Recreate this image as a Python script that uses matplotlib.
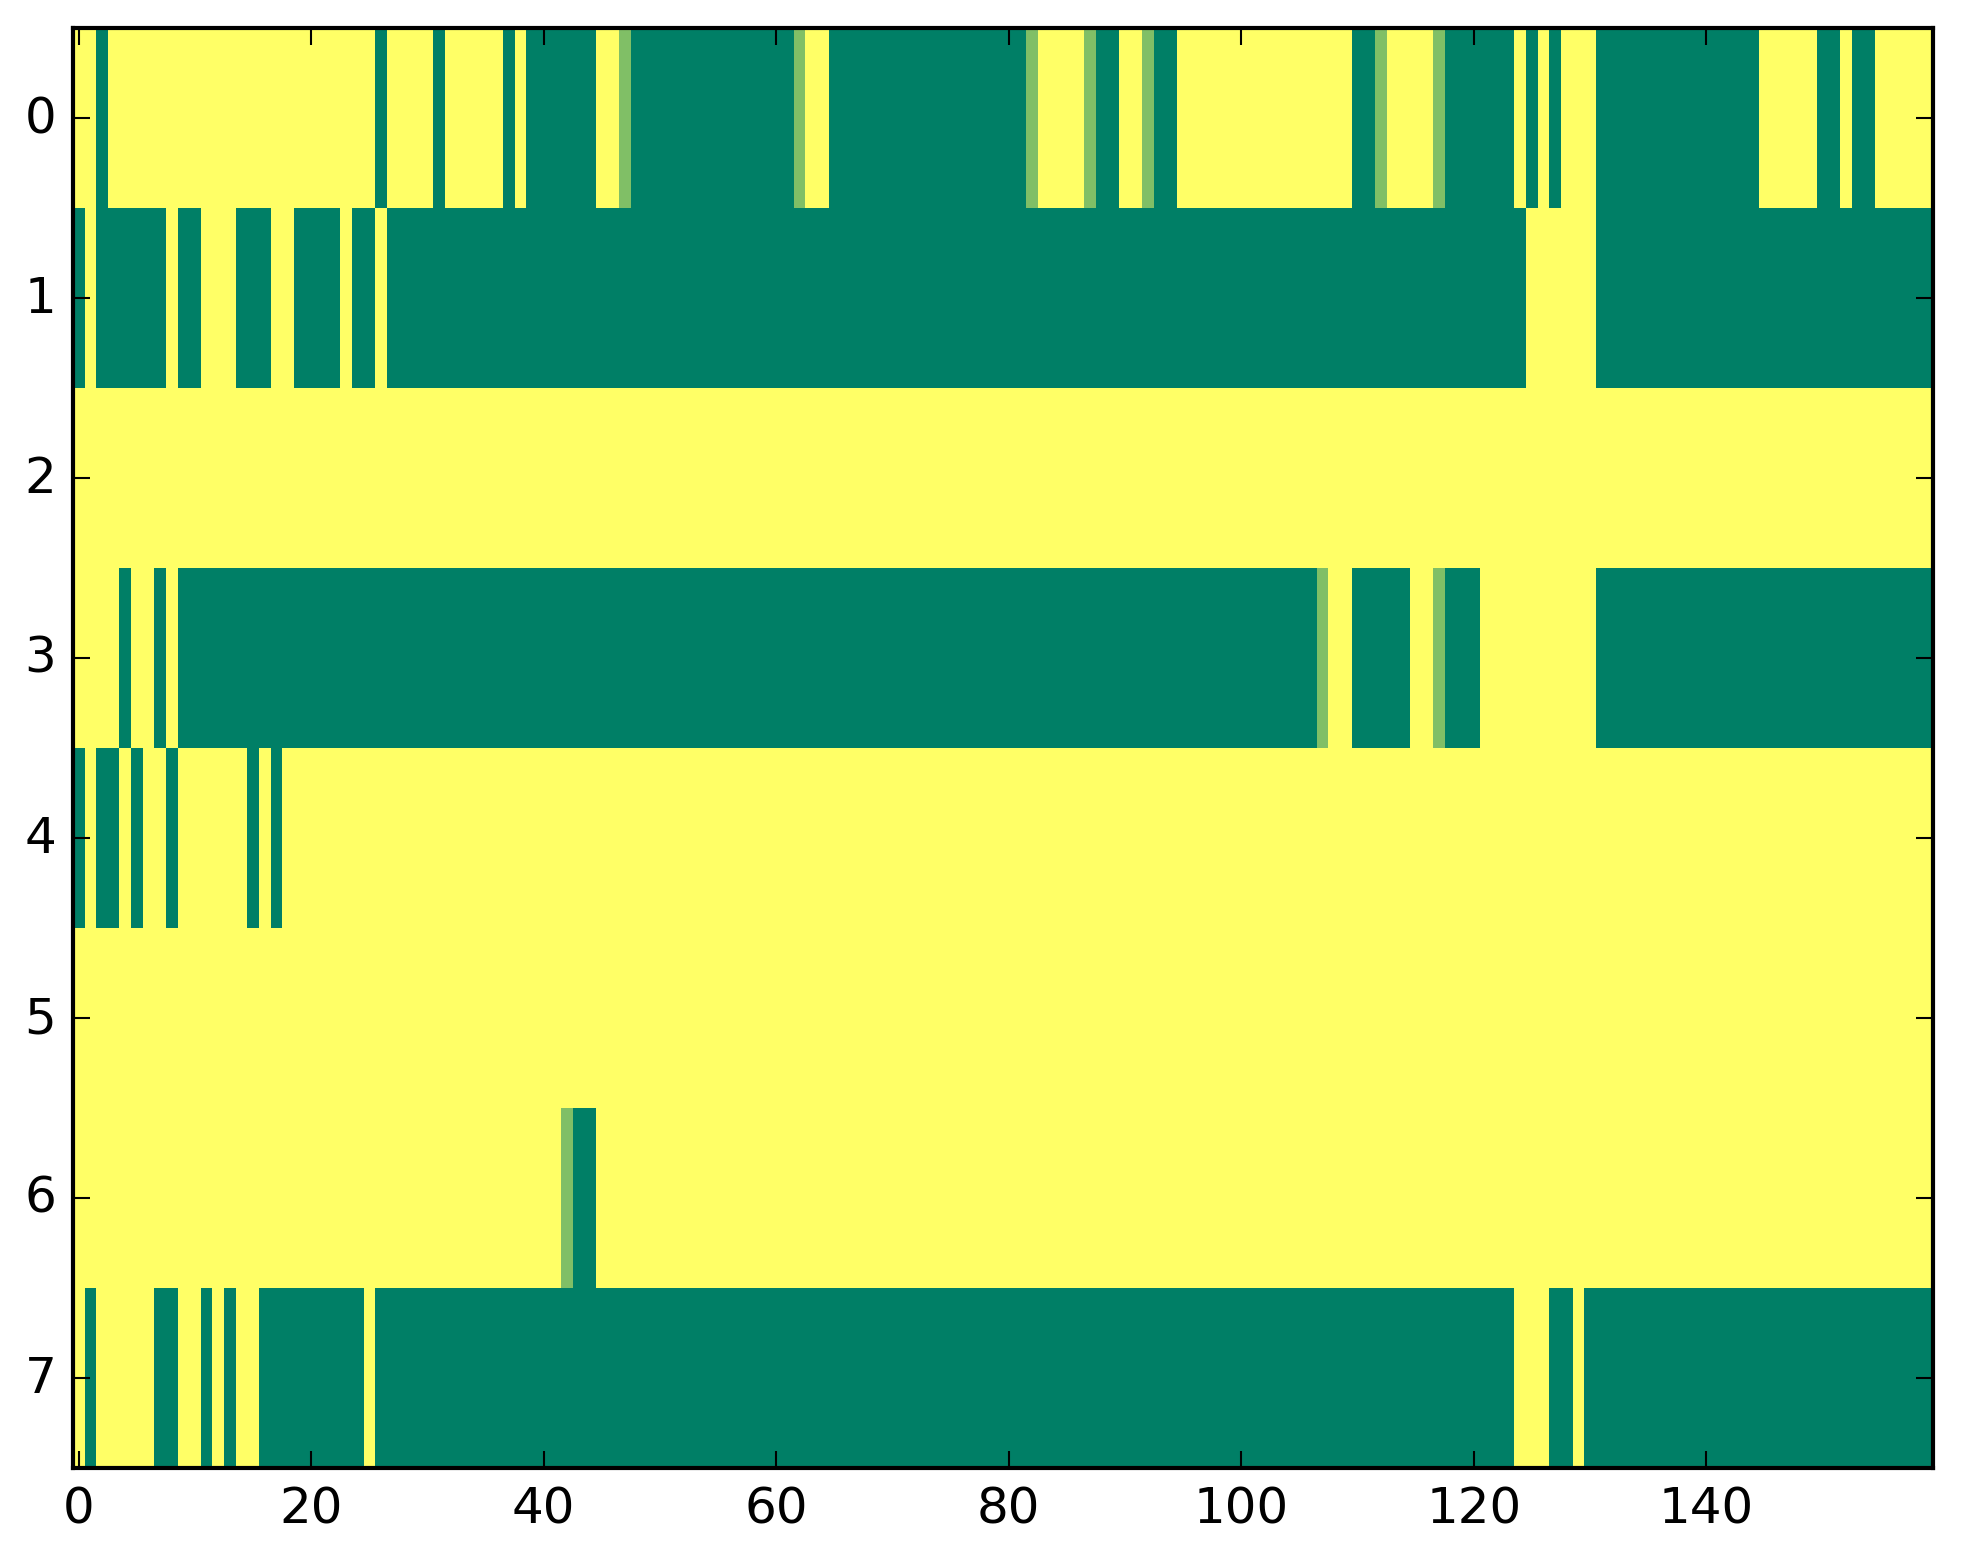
import numpy as np
import matplotlib
matplotlib.use('Agg')
import matplotlib.pyplot as plt

# each row stored as runs of (value, length), 160 columns per row
row0 = [(1, 2), (0, 1), (1, 23), (0, 1), (1, 4), (0, 1), (1, 5), (0, 1), (1, 1), (0, 6),
        (1, 2), (0.5, 1), (0, 14), (0.5, 1), (1, 2), (0, 17), (0.5, 1), (1, 4), (0.5, 1),
        (0, 2), (1, 2), (0.5, 1), (0, 2), (1, 15), (0, 2), (0.5, 1), (1, 4), (0.5, 1),
        (0, 6), (1, 1), (0, 1), (1, 1), (0, 1), (1, 3), (0, 14), (1, 5), (0, 2), (1, 1),
        (0, 2), (1, 5)]
row1 = [(0, 1), (1, 1), (0, 6), (1, 1), (0, 2), (1, 3), (0, 3), (1, 2), (0, 4), (1, 1),
        (0, 2), (1, 1), (0, 98), (1, 6), (0, 29)]
row2 = [(1, 160)]
row3 = [(1, 4), (0, 1), (1, 2), (0, 1), (1, 1), (0, 98), (0.5, 1), (1, 2), (0, 5), (1, 2),
        (0.5, 1), (0, 3), (1, 10), (0, 29)]
row4 = [(0, 1), (1, 1), (0, 2), (1, 1), (0, 1), (1, 2), (0, 1), (1, 6), (0, 1), (1, 1),
        (0, 1), (1, 142)]
row5 = [(1, 160)]
row6 = [(1, 42), (0.5, 1), (0, 2), (1, 115)]
row7 = [(1, 1), (0, 1), (1, 5), (0, 2), (1, 2), (0, 1), (1, 1), (0, 1), (1, 2), (0, 9),
        (1, 1), (0, 98), (1, 3), (0, 2), (1, 1), (0, 30)]

rows = [row0, row1, row2, row3, row4, row5, row6, row7]


def expand(runs):
    out = []
    for v, n in runs:
        out.extend([v] * n)
    return out


data = np.array([expand(r) for r in rows], dtype=float)

plt.style.use('classic')
W, H = 1963, 1564
fig = plt.figure(figsize=(W / 300, H / 300))
ax = fig.add_axes([73 / W, (H - 1469) / H, 1860 / W, 1440 / H])
ax.imshow(data, cmap='summer', vmin=0, vmax=1, aspect='auto', interpolation='nearest')
ax.set_xlim(-0.5, data.shape[1] - 0.5)
ax.set_ylim(data.shape[0] - 0.5, -0.5)
ax.set_xticks(range(0, 160, 20))
ax.set_yticks(range(0, 8))

fig.savefig('out.png', dpi=300)
